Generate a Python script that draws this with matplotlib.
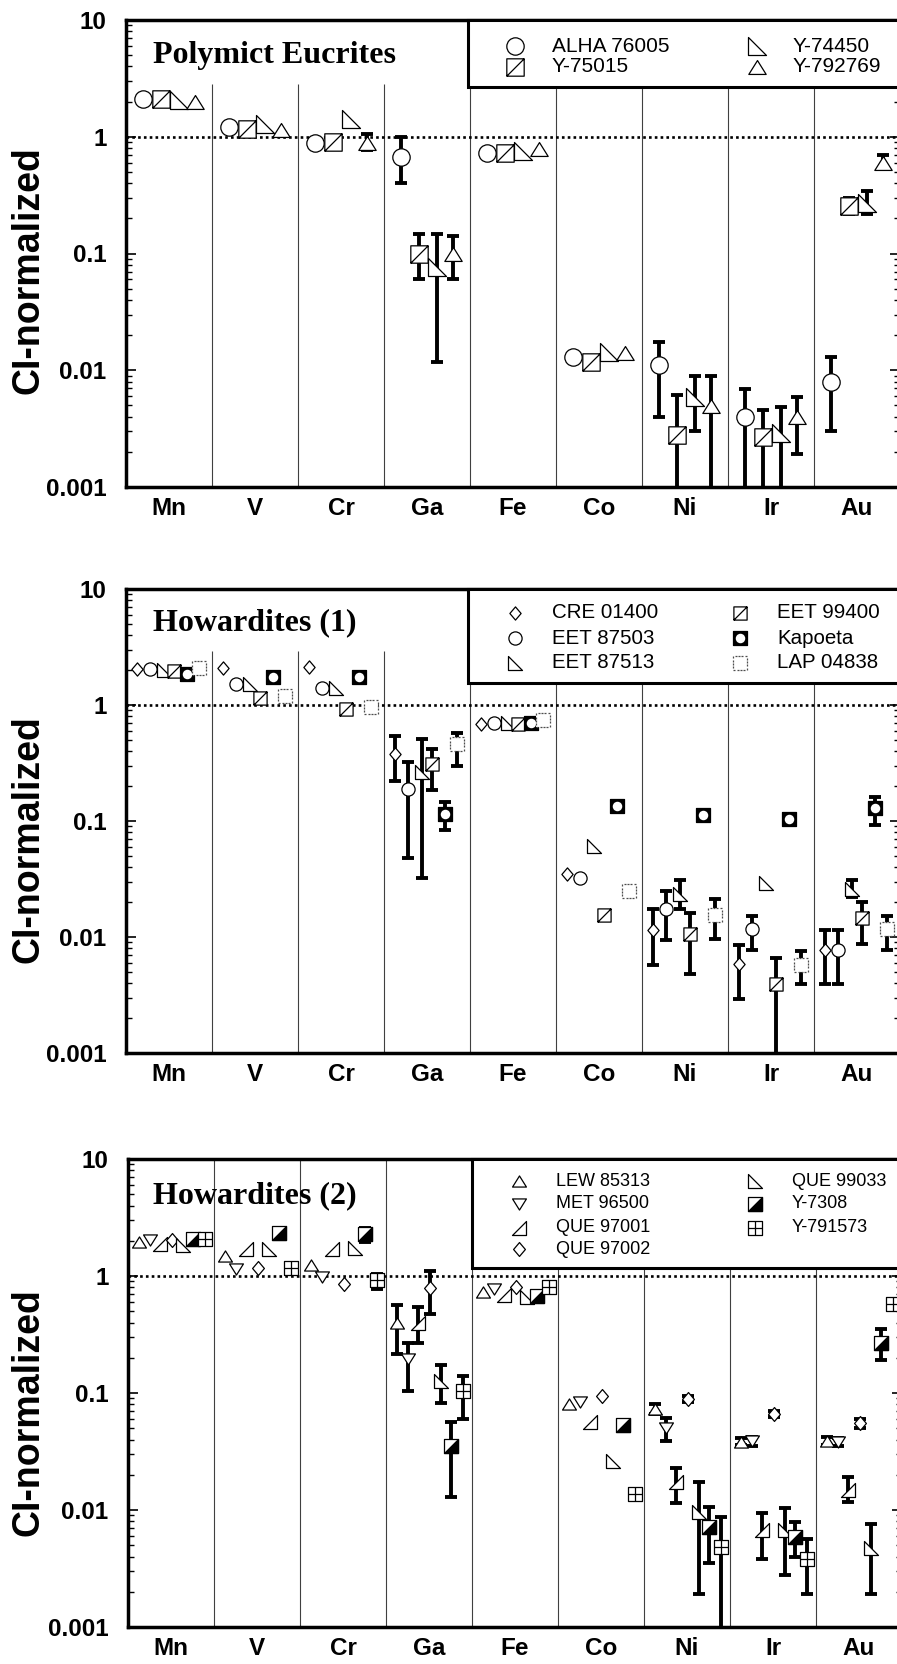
import numpy as np
import matplotlib
matplotlib.use("Agg")
import matplotlib.pyplot as plt
from matplotlib.path import Path
from matplotlib.patches import Rectangle
from matplotlib.ticker import LogLocator, NullFormatter

plt.rcParams['font.family'] = ['Liberation Sans', 'DejaVu Sans']

LOW = 0.0003   # error bar runs below the bottom of the axis

elements = ['Mn', 'V', 'Cr', 'Ga', 'Fe', 'Co', 'Ni', 'Ir', 'Au']

# --- Polymict eucrites ---
pe_names = ['ALHA 76005', 'Y-75015', 'Y-74450', 'Y-792769']
pe_values = [
    [2.1, 1.22, 0.89, 0.67, 0.73, 0.0129, 0.011, 0.004, 0.008],
    [2.1, 1.17, 0.90, 0.10, 0.73, 0.0117, 0.0028, 0.0027, 0.257],
    [2.05, 1.29, 1.42, 0.076, 0.76, 0.0143, 0.0059, 0.0029, 0.27],
    [2.0, 1.15, 0.89, 0.10, 0.79, 0.014, 0.0049, 0.004, 0.60],
]
pe_lo = [
    [None, None, None, 0.40, None, None, 0.004, LOW, 0.003],
    [None, None, None, 0.061, None, None, LOW, LOW, 0.22],
    [None, None, None, 0.0117, None, None, 0.003, LOW, 0.22],
    [None, None, 0.77, 0.061, None, None, LOW, 0.0019, 0.53],
]
pe_hi = [
    [None, None, None, 1.0, None, None, 0.0174, 0.0069, 0.0129],
    [None, None, None, 0.148, None, None, 0.0061, 0.0046, 0.30],
    [None, None, None, 0.148, None, None, 0.0089, 0.0048, 0.34],
    [None, None, 1.06, 0.14, None, None, 0.0089, 0.0059, 0.70],
]

# --- Howardites (1) ---
h1_names = ['CRE 01400', 'EET 87503', 'EET 87513', 'EET 99400', 'Kapoeta', 'LAP 04838']
h1_values = [
    [2.04, 2.08, 2.13, 0.38, 0.68, 0.035, 0.0115, 0.0059, 0.0078],
    [2.04, 1.52, 1.40, 0.19, 0.70, 0.032, 0.0175, 0.0117, 0.0078],
    [2.0, 1.52, 1.40, 0.265, 0.70, 0.061, 0.0234, 0.029, 0.026],
    [1.96, 1.15, 0.93, 0.31, 0.68, 0.0155, 0.0106, 0.0039, 0.0145],
    [1.85, 1.74, 1.74, 0.115, 0.70, 0.135, 0.113, 0.104, 0.13],
    [2.08, 1.20, 0.96, 0.46, 0.74, 0.025, 0.0155, 0.0057, 0.0117],
]
h1_lo = [
    [None, None, None, 0.22, None, None, 0.0057, 0.0029, 0.0039],
    [None, None, None, 0.048, None, None, 0.0094, 0.0078, 0.0039],
    [None, None, None, 0.032, None, None, 0.0175, None, 0.022],
    [None, None, None, 0.185, None, None, 0.0048, LOW, 0.0087],
    [None, None, None, 0.084, None, None, None, None, 0.093],
    [None, None, None, 0.30, None, None, 0.0096, 0.0039, 0.0078],
]
h1_hi = [
    [None, None, None, 0.54, None, None, 0.0174, 0.0085, 0.0115],
    [None, None, None, 0.32, None, None, 0.025, 0.0152, 0.0115],
    [None, None, None, 0.51, None, None, 0.031, None, 0.031],
    [None, None, None, 0.42, None, None, 0.016, 0.0066, 0.020],
    [None, None, None, 0.146, None, None, None, None, 0.16],
    [None, None, None, 0.57, None, None, 0.0214, 0.0076, 0.0152],
]

# --- Howardites (2) ---
h2_names = ['LEW 85313', 'MET 96500', 'QUE 97001', 'QUE 97002', 'QUE 99033', 'Y-7308', 'Y-791573']
h2_values = [
    [1.95, 1.48, 1.24, 0.40, 0.73, 0.081, 0.073, 0.038, 0.039],
    [2.03, 1.15, 0.98, 0.195, 0.77, 0.084, 0.050, 0.039, 0.038],
    [1.88, 1.70, 1.70, 0.40, 0.69, 0.057, 0.0174, 0.0067, 0.0148],
    [2.03, 1.17, 0.85, 0.79, 0.80, 0.094, 0.089, 0.066, 0.055],
    [1.84, 1.70, 1.73, 0.127, 0.66, 0.026, 0.0096, 0.0067, 0.0047],
    [2.07, 2.33, 2.29, 0.035, 0.67, 0.053, 0.0072, 0.0059, 0.27],
    [2.07, 1.17, 0.92, 0.104, 0.80, 0.0137, 0.0048, 0.0038, 0.58],
]
h2_lo = [
    [None, None, None, 0.216, None, None, 0.066, 0.036, 0.036],
    [None, None, None, 0.104, None, None, 0.039, 0.035, 0.035],
    [None, None, None, 0.27, None, None, 0.0115, 0.0038, 0.0117],
    [None, None, None, 0.47, None, None, 0.083, 0.062, 0.050],
    [None, None, None, 0.082, None, None, 0.0019, 0.0028, 0.0019],
    [None, None, 1.95, 0.013, None, None, 0.0035, 0.0040, 0.19],
    [None, None, 0.77, 0.060, None, None, LOW, 0.0019, 0.53],
]
h2_hi = [
    [None, None, None, 0.56, None, None, 0.080, 0.041, 0.042],
    [None, None, None, 0.27, None, None, 0.061, 0.042, 0.041],
    [None, None, None, 0.54, None, None, 0.023, 0.0094, 0.019],
    [None, None, None, 1.10, None, None, 0.095, 0.070, 0.060],
    [None, None, None, 0.174, None, None, 0.0174, 0.0104, 0.0076],
    [None, None, 2.55, 0.057, None, None, 0.0106, 0.0079, 0.35],
    [None, None, 1.04, 0.14, None, None, 0.0087, 0.0056, 0.64],
]

# marker shapes
M, L, C = Path.MOVETO, Path.LINETO, Path.CLOSEPOLY
sq = [(-1, -1), (1, -1), (1, 1), (-1, 1), (-1, -1)]
sq_c = [M, L, L, L, C]
square = Path(sq, sq_c)
shapes = {
    'sqdiag': Path(sq + [(-1, -1), (1, 1)], sq_c + [M, L]),
    'sqcross': Path(sq + [(0, -1), (0, 1), (-1, 0), (1, 0)], sq_c + [M, L, M, L]),
    'diamond': Path([(0, 1), (0.85, 0), (0, -1), (-0.85, 0), (0, 1)], [M, L, L, L, C]),
    'tri_up': Path([(-1, -0.8), (1, -0.8), (0, 0.8), (-1, -0.8)], [M, L, L, C]),
    'tri_dn': Path([(-1, 0.8), (1, 0.8), (0, -0.8), (-1, 0.8)], [M, L, L, C]),
    'rtri_l': Path([(-1, 1), (-1, -1), (1, -1), (-1, 1)], [M, L, L, C]),
    'rtri_r': Path([(1, 1), (1, -1), (-1, -1), (1, 1)], [M, L, L, C]),
    'circle': 'o',
}
half_tri = Path([(-1, -1), (1, -1), (1, 1), (-1, -1)], [M, L, L, C])

# dashed outline of a square
dv, dc = [], []
for (x0, y0), (x1, y1) in zip(sq[:-1], sq[1:]):
    for k in range(4):
        a, b = k / 4, (k + 0.6) / 4
        dv += [(x0 + (x1 - x0) * a, y0 + (y1 - y0) * a), (x0 + (x1 - x0) * b, y0 + (y1 - y0) * b)]
        dc += [M, L]
dashed_sq = Path(dv, dc)


def put(ax, x, y, kind, ms, z=3, tr=None):
    kw = dict(ls='none', zorder=z)
    if tr is not None:
        kw['transform'] = tr
    if kind == 'kapoeta':
        ax.plot(x, y, marker=square, ms=ms, mfc='black', mec='black', mew=0.9, **kw)
        ax.plot(x, y, marker='o', ms=ms * 0.72, mfc='white', mew=0, **kw)
    elif kind == 'half':
        ax.plot(x, y, marker=square, ms=ms, mfc='white', mec='black', mew=0.9, **kw)
        ax.plot(x, y, marker=half_tri, ms=ms, mfc='black', mec='black', mew=0.9, **kw)
    elif kind == 'dashsq':
        ax.plot(x, y, marker=square, ms=ms, mfc='white', mew=0, **kw)
        ax.plot(x, y, marker=dashed_sq, ms=ms, mfc='none', mec='0.3', mew=0.9, **kw)
    else:
        ax.plot(x, y, marker=shapes[kind], ms=ms, mfc='white', mec='black', mew=0.9, **kw)


W, H = 897, 1664
panels = [
    dict(title='Polymict Eucrites', names=pe_names, vals=pe_values, lo=pe_lo, hi=pe_hi,
         kinds=['circle', 'sqdiag', 'rtri_l', 'tri_up'], offs=[0.2, 0.41, 0.62, 0.8], ms=12.5,
         left=126, right=900, top=20, bottom=487, sep_top=2.85, title_y=63, ylab_y=270,
         box_x=468, box_b=87, mx=[515, 757], tx=[552, 793], rows=[46, 67], lfs=15),
    dict(title='Howardites (1)', names=h1_names, vals=h1_values, lo=h1_lo, hi=h1_hi,
         kinds=['diamond', 'circle', 'rtri_l', 'sqdiag', 'kapoeta', 'dashsq'],
         offs=[0.13, 0.28, 0.44, 0.56, 0.71, 0.85], ms=9.5,
         left=126, right=900, top=589, bottom=1053, sep_top=2.9, title_y=630, ylab_y=839,
         box_x=468, box_b=683, mx=[515, 740], tx=[552, 777], rows=[613, 638, 663], lfs=14.8),
    dict(title='Howardites (2)', names=h2_names, vals=h2_values, lo=h2_lo, hi=h2_hi,
         kinds=['tri_up', 'tri_dn', 'rtri_r', 'diamond', 'rtri_l', 'half', 'sqcross'],
         offs=[0.13, 0.26, 0.37, 0.51, 0.64, 0.76, 0.89], ms=10,
         left=128, right=902, top=1159, bottom=1627, sep_top=10, title_y=1203, ylab_y=1412,
         box_x=472, box_b=1268, mx=[519, 755], tx=[556, 792], rows=[1181, 1204, 1228, 1249], lfs=13),
]

fig = plt.figure(figsize=(W / 100, H / 100), dpi=100)

for p in panels:
    ax = fig.add_axes([p['left'] / W, 1 - p['bottom'] / H,
                       (p['right'] - p['left']) / W, (p['bottom'] - p['top']) / H])

    def axc(px, py, p=p):
        return ((px - p['left']) / (p['right'] - p['left']),
                (p['bottom'] - py) / (p['bottom'] - p['top']))

    ax.set_yscale('log')
    ax.set_ylim(1e-3, 10)
    ax.set_xlim(0, 9)
    ax.set_yticks([1e-3, 1e-2, 0.1, 1, 10], ['0.001', '0.01', '0.1', '1', '10'])
    ax.yaxis.set_minor_locator(LogLocator(base=10, subs=np.arange(2, 10)))
    ax.yaxis.set_minor_formatter(NullFormatter())
    ax.set_xticks(np.arange(9) + 0.5, elements)
    ax.tick_params(axis='y', which='major', direction='in', length=7, width=1.2,
                   right=True, labelsize=17.5, pad=14)
    ax.tick_params(axis='y', which='minor', direction='in', length=4, width=1.0, right=True)
    ax.tick_params(axis='x', length=0, labelsize=17.5, pad=7)
    for lab in ax.get_xticklabels() + ax.get_yticklabels():
        lab.set_fontweight('bold')
    for s in ax.spines.values():
        s.set_linewidth(2.5)

    ax.vlines(np.arange(1, 9), 1e-3, p['sep_top'], colors='0.25', lw=0.8, zorder=1)
    ax.axhline(1, color='black', ls=(0, (1, 1.2)), lw=1.9, zorder=1)

    for i, kind in enumerate(p['kinds']):
        x = np.arange(9) + p['offs'][i]
        y = np.array(p['vals'][i])
        lo = p['lo'][i]
        hi = p['hi'][i]
        idx = [j for j in range(9) if lo[j] is not None]
        if idx:
            yl = np.array([lo[j] for j in idx])
            yh = np.array([hi[j] for j in idx])
            ax.errorbar(x[idx], y[idx], yerr=[y[idx] - yl, yh - y[idx]], fmt='none',
                        ecolor='black', elinewidth=2.8, capsize=4, capthick=2.8, zorder=2)
        put(ax, x, y, kind, p['ms'])

    # title
    tx, ty = axc(153, p['title_y'])
    ax.text(tx, ty, p['title'], transform=ax.transAxes, va='baseline', ha='left',
            family='Liberation Serif', fontweight='bold', fontsize=23, zorder=6)

    # legend box
    bx, by = axc(p['box_x'], p['box_b'])
    ax.add_patch(Rectangle((bx, by), 1 - bx, 1 - by, transform=ax.transAxes, fc='white',
                           ec='black', lw=2.2, zorder=5, clip_on=False))
    n = len(p['names'])
    n1 = (n + 1) // 2
    for k, name in enumerate(p['names']):
        col = 0 if k < n1 else 1
        row = k if k < n1 else k - n1
        mxa, mya = axc(p['mx'][col], p['rows'][row])
        txa, _ = axc(p['tx'][col], p['rows'][row])
        put(ax, [mxa], [mya], p['kinds'][k], p['ms'], z=6, tr=ax.transAxes)
        ax.text(txa, mya, name, transform=ax.transAxes, va='center', ha='left',
                fontsize=p['lfs'], fontweight='normal', zorder=6)

    fig.text(29 / W, 1 - p['ylab_y'] / H, 'CI-normalized', rotation=90, ha='center',
             va='center', fontsize=27, fontweight='bold')

fig.savefig('out.png', dpi=100)
